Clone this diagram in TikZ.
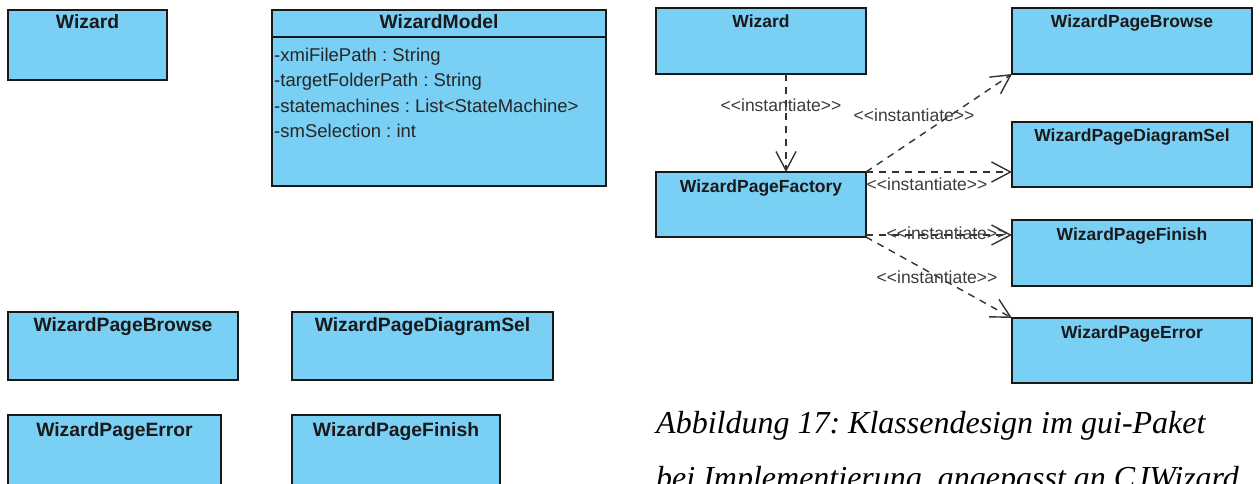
\documentclass[tikz,border=0pt]{standalone}
\usepackage{fontspec}
\setmainfont{Liberation Sans}
\newfontfamily\capfont{Liberation Serif}
\usetikzlibrary{arrows.meta}
\definecolor{umlblue}{RGB}{122,207,244}
\definecolor{lblgray}{RGB}{60,60,60}
\newcommand\instlbl{<\kern0pt<instantiate>\kern0pt>}
\tikzset{
 cls/.style={draw=black!90, line width=1.5pt, fill=umlblue, anchor=north west, inner sep=0pt, outer sep=0pt},
 ttlL/.style={font=\fontsize{19.3}{19.3}\selectfont\bfseries, anchor=base, inner sep=0pt, text=black!90},
 ttlR/.style={font=\fontsize{17.5}{17.5}\selectfont\bfseries, anchor=base, inner sep=0pt, text=black!90},
 attr/.style={font=\fontsize{18.5}{18.5}\selectfont, anchor=base west, inner sep=0pt, text=black!85},
 instarrow/.style={draw=black!80, line width=1.4pt, dash pattern=on 7pt off 6pt, -{Straight Barb[length=19pt,width=20pt,line width=1.4pt]}},
 lbl/.style={font=\fontsize{17.5}{17.5}\selectfont, text=lblgray, inner sep=0pt},
 capt/.style={font=\capfont\itshape\fontsize{32}{32}\selectfont, anchor=base west, inner sep=0pt},
}
\begin{document}
\frenchspacing
\begin{tikzpicture}[x=1pt,y=-1pt]
\useasboundingbox (0,0) rectangle (1260,484);
\fill[white] (0,0) rectangle (1260,484);
% ---- left side ----
\node[cls,minimum width=159pt,minimum height=70pt] (wizL) at (8,10) {};
\node[ttlL] (wizLt) at ([yshift=-19pt]wizL.north) {Wizard};
\node[cls,minimum width=334pt,minimum height=176pt] (wm) at (272,10) {};
\node[ttlL] (wmt) at ([yshift=-19pt]wm.north) {WizardModel};
\draw[line width=1.5pt,black!90] ([yshift=-27pt]wm.north west) -- ([yshift=-27pt]wm.north east);
\node[attr] (a1) at ([xshift=2pt,yshift=-51.5pt]wm.north west) {-xmiFilePath : String};
\node[attr] (a2) at ([xshift=2pt,yshift=-77pt]wm.north west) {-targetFolderPath : String};
\node[attr] (a3) at ([xshift=2pt,yshift=-102.5pt]wm.north west) {-statemachines : List<StateMachine>};
\node[attr] (a4) at ([xshift=2pt,yshift=-128pt]wm.north west) {-smSelection : int};
\node[cls,minimum width=230pt,minimum height=68pt] (brL) at (8,312) {};
\node[ttlL] (brLt) at ([yshift=-19pt]brL.north) {WizardPageBrowse};
\node[cls,minimum width=261pt,minimum height=68pt] (dsL) at (292,312) {};
\node[ttlL] (dsLt) at ([yshift=-19pt]dsL.north) {WizardPageDiagramSel};
\node[cls,minimum width=213pt,minimum height=90pt] (erL) at (8,415) {};
\node[ttlL] (erLt) at ([yshift=-21pt]erL.north) {WizardPageError};
\node[cls,minimum width=208pt,minimum height=90pt] (fiL) at (292,415) {};
\node[ttlL] (fiLt) at ([yshift=-21pt]fiL.north) {WizardPageFinish};
% ---- right side ----
\node[cls,minimum width=210pt,minimum height=66pt] (wizR) at (656,8) {};
\node[ttlR] (wizRt) at ([yshift=-20pt]wizR.north) {Wizard};
\node[cls,minimum width=210pt,minimum height=65pt] (fac) at (656,172) {};
\node[ttlR] (fact) at ([yshift=-20pt]fac.north) {WizardPageFactory};
\node[cls,minimum width=240pt,minimum height=66pt] (brR) at (1012,8) {};
\node[ttlR] (brRt) at ([yshift=-20pt]brR.north) {WizardPageBrowse};
\node[cls,minimum width=240pt,minimum height=65pt] (dsR) at (1012,122) {};
\node[ttlR] (dsRt) at ([yshift=-20pt]dsR.north) {WizardPageDiagramSel};
\node[cls,minimum width=240pt,minimum height=66pt] (fiR) at (1012,220) {};
\node[ttlR] (fiRt) at ([yshift=-20pt]fiR.north) {WizardPageFinish};
\node[cls,minimum width=240pt,minimum height=65pt] (erR) at (1012,318) {};
\node[ttlR] (erRt) at ([yshift=-20pt]erR.north) {WizardPageError};
% ---- connectors ----
\coordinate (vx) at (786,0);
\draw[instarrow] (wizR.south -| vx) -- (fac.north -| vx);
\draw[instarrow] (fac.north east) -- (brR.south west);
\draw[instarrow] (fac.north east) -- (fac.north east -| dsR.west);
\draw[instarrow] ([yshift=2pt]fac.south east) -- ([yshift=2pt]fac.south east -| fiR.west);
\draw[instarrow] (fac.south east) -- (erR.north west);
\node[lbl] (l1) at (781,105) {\instlbl};
\node[lbl] (l2) at (914,115) {\instlbl};
\node[lbl] (l3) at (927,184) {\instlbl};
\node[lbl] (l4) at (947,233) {\instlbl};
\node[lbl] (l5) at (937,277) {\instlbl};
% ---- caption ----
\node[capt] (cap1) at (656,433) {Abbildung 17: Klassendesign im gui-Paket};
\node[capt] (cap2) at (656,488) {bei Implementierung, angepasst an CJWizard};
\end{tikzpicture}
\end{document}
